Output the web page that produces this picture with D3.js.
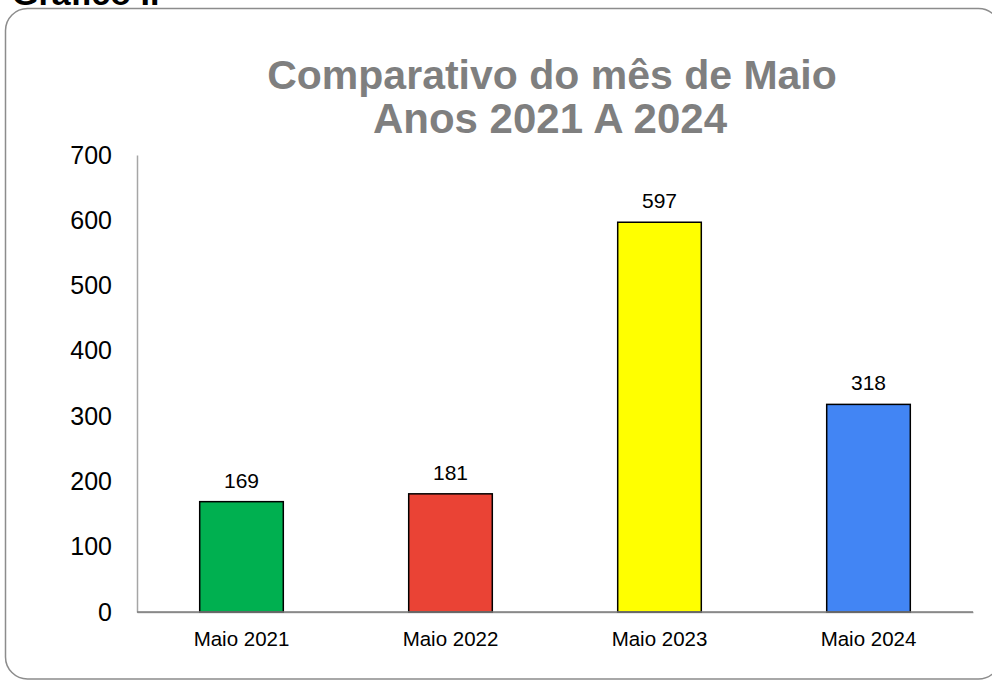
<!DOCTYPE html>
<html>
<head>
<meta charset="utf-8">
<script src="https://cdn.jsdelivr.net/npm/d3@7"></script>
<style>
  html, body { margin: 0; padding: 0; background: #ffffff; }
  svg { display: block; font-family: "Liberation Sans", Arial, sans-serif; }
</style>
</head>
<body>
<svg id="chart" width="992" height="680"></svg>
<script>
const categories = ["Maio 2021", "Maio 2022", "Maio 2023", "Maio 2024"];
const values = [169, 181, 597, 318];
const barColors = ["#00b050", "#ea4335", "#ffff00", "#4285f4"];
const yTicks = [0, 100, 200, 300, 400, 500, 600, 700];
const titleLines = ["Comparativo do mês de Maio", "Anos 2021 A 2024"];
const heading = "Gráfico I.";

const svg = d3.select("#chart");

// heading (cut off at top, as in the reference)
svg.append("text")
  .attr("x", 12).attr("y", 5)
  .attr("font-size", 34).attr("font-weight", "bold")
  .attr("fill", "#000")
  .text(heading);

// frame
svg.append("rect")
  .attr("x", 5.5).attr("y", 8.5)
  .attr("width", 995).attr("height", 670.5)
  .attr("rx", 22).attr("ry", 22)
  .attr("fill", "none")
  .attr("stroke", "#8c8c8c")
  .attr("stroke-width", 1.5);

// title
svg.append("text")
  .attr("x", 552).attr("y", 89)
  .attr("text-anchor", "middle")
  .attr("font-size", 41).attr("font-weight", "bold")
  .attr("fill", "#7f7f7f")
  .text(titleLines[0]);
svg.append("text")
  .attr("x", 550).attr("y", 133)
  .attr("text-anchor", "middle")
  .attr("font-size", 42).attr("font-weight", "bold")
  .attr("fill", "#7f7f7f")
  .text(titleLines[1]);

const x = d3.scaleBand()
  .domain(categories)
  .range([137, 973])
  .paddingInner(0.6)
  .paddingOuter(0.3);

const y = d3.scaleLinear()
  .domain([0, 700])
  .range([612, 155]);

// y axis
const yAxis = svg.append("g")
  .attr("transform", "translate(137,0)")
  .call(d3.axisLeft(y).tickValues(yTicks).tickSize(0).tickPadding(25));
yAxis.select(".domain").attr("stroke", "#a6a6a6").attr("stroke-width", 1.5);
yAxis.selectAll("text")
  .attr("font-size", 25)
  .attr("font-family", "Liberation Sans, Arial, sans-serif")
  .attr("fill", "#000");

// x axis
const xAxis = svg.append("g")
  .attr("transform", "translate(0,612)")
  .call(d3.axisBottom(x).tickSize(0).tickPadding(19));
xAxis.select(".domain").attr("stroke", "#a6a6a6").attr("stroke-width", 1.5);
xAxis.selectAll("text")
  .attr("font-size", 20.5)
  .attr("font-family", "Liberation Sans, Arial, sans-serif")
  .attr("fill", "#000");

// bars
svg.append("g").selectAll("rect")
  .data(values)
  .join("rect")
  .attr("x", (d, i) => x(categories[i]))
  .attr("y", d => y(d))
  .attr("width", x.bandwidth())
  .attr("height", d => y(0) - y(d))
  .attr("fill", (d, i) => barColors[i])
  .attr("stroke", "#000")
  .attr("stroke-width", 1.5);

// redraw baseline over bars
svg.append("line")
  .attr("x1", 137).attr("x2", 973)
  .attr("y1", 612).attr("y2", 612)
  .attr("stroke", "#7f7f7f").attr("stroke-width", 1.5);

// data labels
svg.append("g").selectAll("text")
  .data(values)
  .join("text")
  .attr("x", (d, i) => x(categories[i]) + x.bandwidth() / 2)
  .attr("y", d => y(d) - 14)
  .attr("text-anchor", "middle")
  .attr("font-size", 21)
  .attr("fill", "#000")
  .text(d => d);
</script>
</body>
</html>
